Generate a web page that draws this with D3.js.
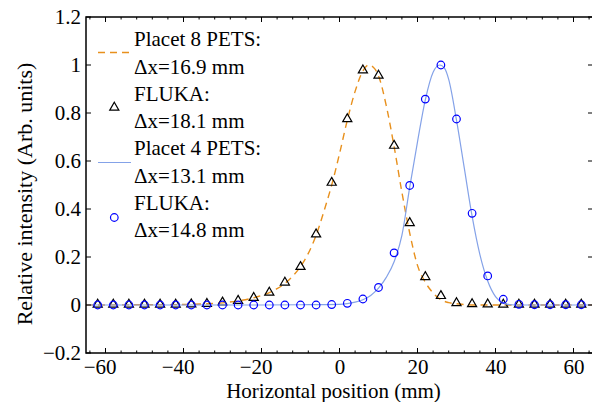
<!DOCTYPE html>
<html><head><meta charset="utf-8">
<script src="https://cdn.jsdelivr.net/npm/d3@7"></script>
<style>
body{margin:0;background:#fff;}
svg{display:block;}
svg text{font-family:"Liberation Serif","Tinos","Times New Roman","Times","DejaVu Serif","Noto Serif",serif !important;fill:#000;}
</style></head>
<body><svg id="c" width="592" height="402"></svg>
<script>
// Sample positions (mm)
const posX = [-62,-58,-54,-50,-46,-42,-38,-34,-30,-26,-22,-18,-14,-10,-6,-2,2,6,10,14,18,22,26,30,34,38,42,46,50,54,58,62];
// FLUKA (triangles) – Placet 8 PETS comparison
const fluka8 = [0.002,0.002,0.002,0.002,0.002,0.002,0.003,0.005,0.011,0.018,0.030,0.052,0.094,0.159,0.295,0.510,0.775,0.978,0.956,0.664,0.342,0.117,0.038,0.008,0.004,0.003,0.002,0.002,0.002,0.002,0.002,0.002];
// FLUKA (circles) – Placet 4 PETS comparison
const fluka4 = [0,0,0,0,0,0,0,0,0,0,0,0,0,0,0,0.002,0.007,0.025,0.073,0.217,0.498,0.858,1.0,0.775,0.382,0.121,0.024,0.003,0.001,0.001,0.001,0.001];
// Placet 8 PETS curve
const pl8X = [-65,-50,-40,-34,-30,-26,-22,-18,-16,-14,-12,-10,-8,-6,-4,-2,0,2,4,6,7.5,9,10,12,14,16,18,20,22,24,26,28,30,32,34,40,50,65];
const pl8Y = [0,0.001,0.002,0.005,0.009,0.017,0.03,0.052,0.068,0.09,0.12,0.16,0.215,0.29,0.39,0.5,0.63,0.77,0.89,0.975,1.0,0.985,0.955,0.83,0.66,0.47,0.30,0.165,0.095,0.05,0.022,0.01,0.005,0.002,0,0,0,0];
// Placet 4 PETS curve
const pl4X = [-65,-20,-10,0,2,4,6,8,10,12,14,16,18,20,22,24,25.7,27,28,30,32,34,36,38,40,42,44,46,65];
const pl4Y = [0,0,0.001,0.003,0.006,0.012,0.022,0.04,0.07,0.115,0.18,0.29,0.49,0.68,0.855,0.97,1.0,0.985,0.94,0.77,0.57,0.37,0.21,0.10,0.035,0.008,0.001,0,0];
// Axis ticks
const xTicks = [-60,-40,-20,0,20,40,60];
const xMinor = [-64,-56,-52,-48,-44,-36,-32,-28,-24,-16,-12,-8,-4,4,8,12,16,24,28,32,36,44,48,52,56,64];
const yTicks = [-0.2,0,0.2,0.4,0.6,0.8,1,1.2];
const legendLines = [["Placet 8 PETS:","\u0394x=16.9 mm"],["FLUKA:","\u0394x=18.1 mm"],["Placet 4 PETS:","\u0394x=13.1 mm"],["FLUKA:","\u0394x=14.8 mm"]];

const ORANGE = "#e8901c", LBLUE = "#84a2e8", BLUE = "#0000ff";
const FS = 21;
const SERIF = '"Liberation Serif","Tinos","Times New Roman","Times","DejaVu Serif","Noto Serif",serif';
const svg = d3.select("#c").attr("font-family",SERIF);
const L = 86, R = 593, T = 17, B = 353;
const x = d3.scaleLinear().domain([-65,65]).range([L,R]);
const y = d3.scaleLinear().domain([-0.2,1.2]).range([B,T]);

const plot = svg.append("g");
svg.append("clipPath").attr("id","cp").append("rect").attr("x",L).attr("y",T).attr("width",R-L).attr("height",B-T);
const pg = plot.append("g").attr("clip-path","url(#cp)");

const line = d3.line().x(d=>x(d[0])).y(d=>y(d[1])).curve(d3.curveMonotoneX);
pg.append("path").datum(pl8X.map((v,i)=>[v,pl8Y[i]])).attr("d",line)
  .attr("fill","none").attr("stroke",ORANGE).attr("stroke-width",1.4).attr("stroke-dasharray","7,5");
const tri = d3.symbol().type(d3.symbolTriangle).size(36);
pg.selectAll(".tri").data(posX.map((v,i)=>[v,fluka8[i]])).enter().append("path")
  .attr("d",tri).attr("transform",d=>`translate(${x(d[0])},${y(d[1])})`)
  .attr("fill","none").attr("stroke","#000").attr("stroke-width",1.2);
pg.append("path").datum(pl4X.map((v,i)=>[v,pl4Y[i]])).attr("d",line)
  .attr("fill","none").attr("stroke",LBLUE).attr("stroke-width",1.2);
pg.selectAll(".cir").data(posX.map((v,i)=>[v,fluka4[i]])).enter().append("circle")
  .attr("cx",d=>x(d[0])).attr("cy",d=>y(d[1])).attr("r",3.8)
  .attr("fill","none").attr("stroke",BLUE).attr("stroke-width",1.2);

// Axes box
const ax = svg.append("g");
ax.append("rect").attr("x",L).attr("y",T).attr("width",R-L).attr("height",B-T)
  .attr("fill","none").attr("stroke","#000").attr("stroke-width",1.5);
const bottom = d3.axisBottom(x).tickValues(xTicks).tickSize(0).tickPadding(6)
  .tickFormat(d=>d<0?"\u2212"+Math.abs(d):String(d));
const gx = ax.append("g").attr("transform",`translate(0,${B})`).call(bottom);
gx.attr("font-family",SERIF);
gx.select(".domain").remove();
gx.selectAll("text").attr("font-size",FS).attr("dx",d=>d<0?"-0.282em":0);
const left = d3.axisLeft(y).tickValues(yTicks).tickSize(0).tickPadding(5)
  .tickFormat(d=>{const s=d3.format("~g")(Math.abs(d)); return d<0?"\u2212"+s:s;});
const gy = ax.append("g").attr("transform",`translate(${L},0)`).call(left);
gy.attr("font-family",SERIF);
gy.select(".domain").remove();
gy.selectAll("text").attr("font-size",FS);

// inward ticks
const tk = ax.append("g").attr("stroke","#000").attr("stroke-width",1);
xTicks.forEach(v=>{
  tk.append("line").attr("x1",x(v)).attr("x2",x(v)).attr("y1",B).attr("y2",B-5);
  tk.append("line").attr("x1",x(v)).attr("x2",x(v)).attr("y1",T).attr("y2",T+5);
});
xMinor.forEach(v=>{
  tk.append("line").attr("x1",x(v)).attr("x2",x(v)).attr("y1",B).attr("y2",B-2.5);
  tk.append("line").attr("x1",x(v)).attr("x2",x(v)).attr("y1",T).attr("y2",T+2.5);
});
yTicks.forEach(v=>{
  tk.append("line").attr("x1",L).attr("x2",L+5).attr("y1",y(v)).attr("y2",y(v));
  tk.append("line").attr("x1",R).attr("x2",R-5).attr("y1",y(v)).attr("y2",y(v));
});

// Axis titles
svg.append("text").attr("x",(L+R)/2-6).attr("y",398).attr("text-anchor","middle")
  .attr("font-size",21).text("Horizontal position (mm)");
svg.append("text").attr("transform",`translate(32,${194}) rotate(-90)`).attr("text-anchor","middle")
  .attr("font-size",22).text("Relative intensity (Arb. units)");

// Legend
const lg = svg.append("g");
const step = 54.5, y0 = 39, tx = 134;
legendLines.forEach((pair,i)=>{
  const c1 = y0 + i*step;
  lg.append("text").attr("x",tx).attr("y",c1+7).attr("font-size",FS).text(pair[0]);
  lg.append("text").attr("x",tx).attr("y",c1+27.5+7).attr("font-size",FS).text(pair[1]);
  const my = c1 + 13.5 + i*0.5;
  if(i===0) lg.append("line").attr("x1",98).attr("x2",131).attr("y1",my).attr("y2",my)
      .attr("stroke",ORANGE).attr("stroke-width",1.4).attr("stroke-dasharray","7,5");
  if(i===1) lg.append("path").attr("d",tri).attr("transform",`translate(114.3,${my})`)
      .attr("fill","none").attr("stroke","#000").attr("stroke-width",1.2);
  if(i===2) lg.append("line").attr("x1",98).attr("x2",131).attr("y1",my).attr("y2",my)
      .attr("stroke",LBLUE).attr("stroke-width",1.2);
  if(i===3) lg.append("circle").attr("cx",114.3).attr("cy",my).attr("r",3.8)
      .attr("fill","none").attr("stroke",BLUE).attr("stroke-width",1.2);
});
</script></body></html>
